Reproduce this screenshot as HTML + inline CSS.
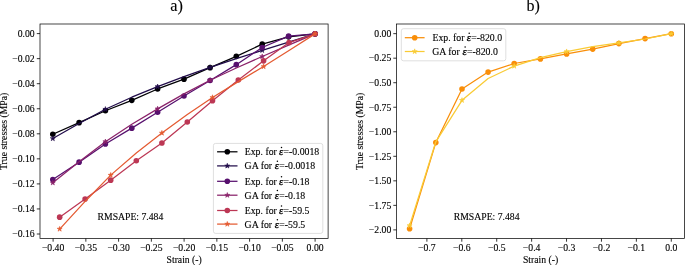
<!DOCTYPE html><html><head><meta charset="utf-8"><style>html,body{margin:0;padding:0;background:#fff;overflow:hidden}svg{display:block}text{font-family:"Liberation Serif", serif;fill:#000;stroke:#000;stroke-width:0.12px}</style></head><body>
<svg style="will-change:transform" width="685" height="265" viewBox="0 0 685 265">
<rect width="685" height="265" fill="#fff"/>
<text x="170.28" y="11.0" font-size="16.3">a)</text>
<text x="526.5" y="11.0" font-size="16">b)</text>
<g>
<polyline points="52.8,134.25 79.1,122.65 105.4,110.75 131.8,100.35 157.6,88.95 184,79.15 210.1,67.65 236.3,56.35 262.2,44.15 288.6,36.85 315.1,33.85" fill="none" stroke="#000004" stroke-width="1.25" stroke-linejoin="round" stroke-linecap="butt"/>
<circle cx="52.8" cy="134.25" r="2.8" fill="#000004"/>
<circle cx="79.1" cy="122.65" r="2.8" fill="#000004"/>
<circle cx="105.4" cy="110.75" r="2.8" fill="#000004"/>
<circle cx="131.8" cy="100.35" r="2.8" fill="#000004"/>
<circle cx="157.6" cy="88.95" r="2.8" fill="#000004"/>
<circle cx="184" cy="79.15" r="2.8" fill="#000004"/>
<circle cx="210.1" cy="67.65" r="2.8" fill="#000004"/>
<circle cx="236.3" cy="56.35" r="2.8" fill="#000004"/>
<circle cx="262.2" cy="44.15" r="2.8" fill="#000004"/>
<circle cx="288.6" cy="36.85" r="2.8" fill="#000004"/>
<circle cx="315.1" cy="33.85" r="2.8" fill="#000004"/>
<polyline points="52.8,138.55 79.1,123.49 105.4,109.25 131.8,97.2 157.6,86.65 184,76.65 210.1,67.45 236.3,58.68 262.2,50.35 288.6,42.06 315.1,33.85" fill="none" stroke="#210c4a" stroke-width="1.25" stroke-linejoin="round" stroke-linecap="butt"/>
<polygon points="52.8,135.9 52.21,137.73 50.28,137.73 51.84,138.86 51.24,140.69 52.8,139.56 54.36,140.69 53.76,138.86 55.32,137.73 53.39,137.73" fill="#210c4a" stroke="#210c4a" stroke-width="0.6" stroke-linejoin="miter"/>
<polygon points="105.4,106.6 104.81,108.43 102.88,108.43 104.44,109.56 103.84,111.39 105.4,110.26 106.96,111.39 106.36,109.56 107.92,108.43 105.99,108.43" fill="#210c4a" stroke="#210c4a" stroke-width="0.6" stroke-linejoin="miter"/>
<polygon points="157.6,84 157.01,85.83 155.08,85.83 156.64,86.96 156.04,88.79 157.6,87.66 159.16,88.79 158.56,86.96 160.12,85.83 158.19,85.83" fill="#210c4a" stroke="#210c4a" stroke-width="0.6" stroke-linejoin="miter"/>
<polygon points="210.1,64.8 209.51,66.63 207.58,66.63 209.14,67.76 208.54,69.59 210.1,68.46 211.66,69.59 211.06,67.76 212.62,66.63 210.69,66.63" fill="#210c4a" stroke="#210c4a" stroke-width="0.6" stroke-linejoin="miter"/>
<polygon points="262.2,47.7 261.61,49.53 259.68,49.53 261.24,50.66 260.64,52.49 262.2,51.36 263.76,52.49 263.16,50.66 264.72,49.53 262.79,49.53" fill="#210c4a" stroke="#210c4a" stroke-width="0.6" stroke-linejoin="miter"/>
<polygon points="315.1,31.2 314.51,33.03 312.58,33.03 314.14,34.16 313.54,35.99 315.1,34.86 316.66,35.99 316.06,34.16 317.62,33.03 315.69,33.03" fill="#210c4a" stroke="#210c4a" stroke-width="0.6" stroke-linejoin="miter"/>
<polyline points="52.8,179.45 79.1,162.15 105.4,143.95 131.8,128.15 157.6,112.25 184,95.95 210.1,80.45 236.3,64.65 262.2,47.45 288.6,36.15 315.1,33.85" fill="none" stroke="#57106e" stroke-width="1.25" stroke-linejoin="round" stroke-linecap="butt"/>
<circle cx="52.8" cy="179.45" r="2.8" fill="#57106e"/>
<circle cx="79.1" cy="162.15" r="2.8" fill="#57106e"/>
<circle cx="105.4" cy="143.95" r="2.8" fill="#57106e"/>
<circle cx="131.8" cy="128.15" r="2.8" fill="#57106e"/>
<circle cx="157.6" cy="112.25" r="2.8" fill="#57106e"/>
<circle cx="184" cy="95.95" r="2.8" fill="#57106e"/>
<circle cx="210.1" cy="80.45" r="2.8" fill="#57106e"/>
<circle cx="236.3" cy="64.65" r="2.8" fill="#57106e"/>
<circle cx="262.2" cy="47.45" r="2.8" fill="#57106e"/>
<circle cx="288.6" cy="36.15" r="2.8" fill="#57106e"/>
<circle cx="315.1" cy="33.85" r="2.8" fill="#57106e"/>
<polyline points="52.8,182.75 79.1,161.7 105.4,141.65 131.8,124.29 157.6,108.85 184,93.9 210.1,80.25 236.3,67.95 262.2,56.55 288.6,45.14 315.1,33.85" fill="none" stroke="#8a226a" stroke-width="1.25" stroke-linejoin="round" stroke-linecap="butt"/>
<polygon points="52.8,180.1 52.21,181.93 50.28,181.93 51.84,183.06 51.24,184.89 52.8,183.76 54.36,184.89 53.76,183.06 55.32,181.93 53.39,181.93" fill="#8a226a" stroke="#8a226a" stroke-width="0.6" stroke-linejoin="miter"/>
<polygon points="105.4,139 104.81,140.83 102.88,140.83 104.44,141.96 103.84,143.79 105.4,142.66 106.96,143.79 106.36,141.96 107.92,140.83 105.99,140.83" fill="#8a226a" stroke="#8a226a" stroke-width="0.6" stroke-linejoin="miter"/>
<polygon points="157.6,106.2 157.01,108.03 155.08,108.03 156.64,109.16 156.04,110.99 157.6,109.86 159.16,110.99 158.56,109.16 160.12,108.03 158.19,108.03" fill="#8a226a" stroke="#8a226a" stroke-width="0.6" stroke-linejoin="miter"/>
<polygon points="210.1,77.6 209.51,79.43 207.58,79.43 209.14,80.56 208.54,82.39 210.1,81.26 211.66,82.39 211.06,80.56 212.62,79.43 210.69,79.43" fill="#8a226a" stroke="#8a226a" stroke-width="0.6" stroke-linejoin="miter"/>
<polygon points="262.2,53.9 261.61,55.73 259.68,55.73 261.24,56.86 260.64,58.69 262.2,57.56 263.76,58.69 263.16,56.86 264.72,55.73 262.79,55.73" fill="#8a226a" stroke="#8a226a" stroke-width="0.6" stroke-linejoin="miter"/>
<polygon points="315.1,31.2 314.51,33.03 312.58,33.03 314.14,34.16 313.54,35.99 315.1,34.86 316.66,35.99 316.06,34.16 317.62,33.03 315.69,33.03" fill="#8a226a" stroke="#8a226a" stroke-width="0.6" stroke-linejoin="miter"/>
<polyline points="59.65,217.15 85.1,199.05 110.7,180.15 136.3,160.75 161.9,143.05 187.3,121.95 212.5,100.65 238.3,79.95 263.6,60.85 289,42.55 315.1,33.85" fill="none" stroke="#bc3754" stroke-width="1.25" stroke-linejoin="round" stroke-linecap="butt"/>
<circle cx="59.65" cy="217.15" r="2.8" fill="#bc3754"/>
<circle cx="85.1" cy="199.05" r="2.8" fill="#bc3754"/>
<circle cx="110.7" cy="180.15" r="2.8" fill="#bc3754"/>
<circle cx="136.3" cy="160.75" r="2.8" fill="#bc3754"/>
<circle cx="161.9" cy="143.05" r="2.8" fill="#bc3754"/>
<circle cx="187.3" cy="121.95" r="2.8" fill="#bc3754"/>
<circle cx="212.5" cy="100.65" r="2.8" fill="#bc3754"/>
<circle cx="238.3" cy="79.95" r="2.8" fill="#bc3754"/>
<circle cx="263.6" cy="60.85" r="2.8" fill="#bc3754"/>
<circle cx="289" cy="42.55" r="2.8" fill="#bc3754"/>
<circle cx="315.1" cy="33.85" r="2.8" fill="#bc3754"/>
<polyline points="59.65,229.05 85.1,201.44 110.7,175.15 136.3,152.98 161.9,133.05 187.3,114.49 212.5,97.45 238.3,81.64 263.6,66.55 289,50.52 315.1,33.85" fill="none" stroke="#e45a31" stroke-width="1.25" stroke-linejoin="round" stroke-linecap="butt"/>
<polygon points="59.65,226.4 59.06,228.23 57.13,228.23 58.69,229.36 58.09,231.19 59.65,230.06 61.21,231.19 60.61,229.36 62.17,228.23 60.24,228.23" fill="#e45a31" stroke="#e45a31" stroke-width="0.6" stroke-linejoin="miter"/>
<polygon points="110.7,172.5 110.11,174.33 108.18,174.33 109.74,175.46 109.14,177.29 110.7,176.16 112.26,177.29 111.66,175.46 113.22,174.33 111.29,174.33" fill="#e45a31" stroke="#e45a31" stroke-width="0.6" stroke-linejoin="miter"/>
<polygon points="161.9,130.4 161.31,132.23 159.38,132.23 160.94,133.36 160.34,135.19 161.9,134.06 163.46,135.19 162.86,133.36 164.42,132.23 162.49,132.23" fill="#e45a31" stroke="#e45a31" stroke-width="0.6" stroke-linejoin="miter"/>
<polygon points="212.5,94.8 211.91,96.63 209.98,96.63 211.54,97.76 210.94,99.59 212.5,98.46 214.06,99.59 213.46,97.76 215.02,96.63 213.09,96.63" fill="#e45a31" stroke="#e45a31" stroke-width="0.6" stroke-linejoin="miter"/>
<polygon points="263.6,63.9 263.01,65.73 261.08,65.73 262.64,66.86 262.04,68.69 263.6,67.56 265.16,68.69 264.56,66.86 266.12,65.73 264.19,65.73" fill="#e45a31" stroke="#e45a31" stroke-width="0.6" stroke-linejoin="miter"/>
<polygon points="315.1,31.2 314.51,33.03 312.58,33.03 314.14,34.16 313.54,35.99 315.1,34.86 316.66,35.99 316.06,34.16 317.62,33.03 315.69,33.03" fill="#e45a31" stroke="#e45a31" stroke-width="0.6" stroke-linejoin="miter"/>
</g>
<polyline points="409.6,228.7 435.8,142.6 462,89 488.1,72.1 514.2,63.5 540.4,58.9 566.6,53.9 592.7,49.1 618.9,43.6 645.1,38.6 671.3,33.7" fill="none" stroke="#f98e09" stroke-width="1.25" stroke-linejoin="round" stroke-linecap="butt"/>
<circle cx="409.6" cy="228.7" r="2.8" fill="#f98e09"/>
<circle cx="435.8" cy="142.6" r="2.8" fill="#f98e09"/>
<circle cx="462" cy="89" r="2.8" fill="#f98e09"/>
<circle cx="488.1" cy="72.1" r="2.8" fill="#f98e09"/>
<circle cx="514.2" cy="63.5" r="2.8" fill="#f98e09"/>
<circle cx="540.4" cy="58.9" r="2.8" fill="#f98e09"/>
<circle cx="566.6" cy="53.9" r="2.8" fill="#f98e09"/>
<circle cx="592.7" cy="49.1" r="2.8" fill="#f98e09"/>
<circle cx="618.9" cy="43.6" r="2.8" fill="#f98e09"/>
<circle cx="645.1" cy="38.6" r="2.8" fill="#f98e09"/>
<circle cx="671.3" cy="33.7" r="2.8" fill="#f98e09"/>
<polyline points="409.6,225.6 435.8,141.8 462,100.3 488.1,78.5 514.2,66.1 540.4,57.6 566.6,51.6 592.7,46.7 618.9,42.9 645.1,39 671.3,33.7" fill="none" stroke="#f9cb35" stroke-width="1.25" stroke-linejoin="round" stroke-linecap="butt"/>
<polygon points="409.6,222.95 409.01,224.78 407.08,224.78 408.64,225.91 408.04,227.74 409.6,226.61 411.16,227.74 410.56,225.91 412.12,224.78 410.19,224.78" fill="#f9cb35" stroke="#f9cb35" stroke-width="0.6" stroke-linejoin="miter"/>
<polygon points="462,97.65 461.41,99.48 459.48,99.48 461.04,100.61 460.44,102.44 462,101.31 463.56,102.44 462.96,100.61 464.52,99.48 462.59,99.48" fill="#f9cb35" stroke="#f9cb35" stroke-width="0.6" stroke-linejoin="miter"/>
<polygon points="514.2,63.45 513.61,65.28 511.68,65.28 513.24,66.41 512.64,68.24 514.2,67.11 515.76,68.24 515.16,66.41 516.72,65.28 514.79,65.28" fill="#f9cb35" stroke="#f9cb35" stroke-width="0.6" stroke-linejoin="miter"/>
<polygon points="566.6,48.95 566.01,50.78 564.08,50.78 565.64,51.91 565.04,53.74 566.6,52.61 568.16,53.74 567.56,51.91 569.12,50.78 567.19,50.78" fill="#f9cb35" stroke="#f9cb35" stroke-width="0.6" stroke-linejoin="miter"/>
<polygon points="618.9,40.25 618.31,42.08 616.38,42.08 617.94,43.21 617.34,45.04 618.9,43.91 620.46,45.04 619.86,43.21 621.42,42.08 619.49,42.08" fill="#f9cb35" stroke="#f9cb35" stroke-width="0.6" stroke-linejoin="miter"/>
<polygon points="671.3,31.05 670.71,32.88 668.78,32.88 670.34,34.01 669.74,35.84 671.3,34.71 672.86,35.84 672.26,34.01 673.82,32.88 671.89,32.88" fill="#f9cb35" stroke="#f9cb35" stroke-width="0.6" stroke-linejoin="miter"/>
<rect x="40" y="24" width="288.1" height="214.5" fill="none" stroke="#000" stroke-width="0.72"/>
<rect x="396.5" y="24" width="288" height="214.5" fill="none" stroke="#000" stroke-width="0.72"/>
<line x1="36.8" y1="33.6" x2="40" y2="33.6" stroke="#000" stroke-width="0.8"/>
<text x="34.67" y="36.9" font-size="9.7" text-anchor="end">0.00</text>
<line x1="36.8" y1="58.65" x2="40" y2="58.65" stroke="#000" stroke-width="0.8"/>
<text x="34.67" y="61.95" font-size="9.7" text-anchor="end">−0.02</text>
<line x1="36.8" y1="83.7" x2="40" y2="83.7" stroke="#000" stroke-width="0.8"/>
<text x="34.67" y="87" font-size="9.7" text-anchor="end">−0.04</text>
<line x1="36.8" y1="108.75" x2="40" y2="108.75" stroke="#000" stroke-width="0.8"/>
<text x="34.67" y="112.05" font-size="9.7" text-anchor="end">−0.06</text>
<line x1="36.8" y1="133.8" x2="40" y2="133.8" stroke="#000" stroke-width="0.8"/>
<text x="34.67" y="137.1" font-size="9.7" text-anchor="end">−0.08</text>
<line x1="36.8" y1="158.85" x2="40" y2="158.85" stroke="#000" stroke-width="0.8"/>
<text x="34.67" y="162.15" font-size="9.7" text-anchor="end">−0.10</text>
<line x1="36.8" y1="183.9" x2="40" y2="183.9" stroke="#000" stroke-width="0.8"/>
<text x="34.67" y="187.2" font-size="9.7" text-anchor="end">−0.12</text>
<line x1="36.8" y1="208.95" x2="40" y2="208.95" stroke="#000" stroke-width="0.8"/>
<text x="34.67" y="212.25" font-size="9.7" text-anchor="end">−0.14</text>
<line x1="36.8" y1="234" x2="40" y2="234" stroke="#000" stroke-width="0.8"/>
<text x="34.67" y="237.3" font-size="9.7" text-anchor="end">−0.16</text>
<line x1="53.1" y1="238.5" x2="53.1" y2="241.7" stroke="#000" stroke-width="0.8"/>
<text x="53.1" y="250.6" font-size="9.7" text-anchor="middle">−0.40</text>
<line x1="85.85" y1="238.5" x2="85.85" y2="241.7" stroke="#000" stroke-width="0.8"/>
<text x="85.85" y="250.6" font-size="9.7" text-anchor="middle">−0.35</text>
<line x1="118.6" y1="238.5" x2="118.6" y2="241.7" stroke="#000" stroke-width="0.8"/>
<text x="118.6" y="250.6" font-size="9.7" text-anchor="middle">−0.30</text>
<line x1="151.35" y1="238.5" x2="151.35" y2="241.7" stroke="#000" stroke-width="0.8"/>
<text x="151.35" y="250.6" font-size="9.7" text-anchor="middle">−0.25</text>
<line x1="184.1" y1="238.5" x2="184.1" y2="241.7" stroke="#000" stroke-width="0.8"/>
<text x="184.1" y="250.6" font-size="9.7" text-anchor="middle">−0.20</text>
<line x1="216.85" y1="238.5" x2="216.85" y2="241.7" stroke="#000" stroke-width="0.8"/>
<text x="216.85" y="250.6" font-size="9.7" text-anchor="middle">−0.15</text>
<line x1="249.6" y1="238.5" x2="249.6" y2="241.7" stroke="#000" stroke-width="0.8"/>
<text x="249.6" y="250.6" font-size="9.7" text-anchor="middle">−0.10</text>
<line x1="282.35" y1="238.5" x2="282.35" y2="241.7" stroke="#000" stroke-width="0.8"/>
<text x="282.35" y="250.6" font-size="9.7" text-anchor="middle">−0.05</text>
<line x1="315.1" y1="238.5" x2="315.1" y2="241.7" stroke="#000" stroke-width="0.8"/>
<text x="315.1" y="250.6" font-size="9.7" text-anchor="middle">0.00</text>
<line x1="393.3" y1="33.65" x2="396.5" y2="33.65" stroke="#000" stroke-width="0.8"/>
<text x="391.27" y="36.95" font-size="9.7" text-anchor="end">0.00</text>
<line x1="393.3" y1="58.18" x2="396.5" y2="58.18" stroke="#000" stroke-width="0.8"/>
<text x="391.27" y="61.48" font-size="9.7" text-anchor="end">−0.25</text>
<line x1="393.3" y1="82.71" x2="396.5" y2="82.71" stroke="#000" stroke-width="0.8"/>
<text x="391.27" y="86.01" font-size="9.7" text-anchor="end">−0.50</text>
<line x1="393.3" y1="107.24" x2="396.5" y2="107.24" stroke="#000" stroke-width="0.8"/>
<text x="391.27" y="110.54" font-size="9.7" text-anchor="end">−0.75</text>
<line x1="393.3" y1="131.77" x2="396.5" y2="131.77" stroke="#000" stroke-width="0.8"/>
<text x="391.27" y="135.07" font-size="9.7" text-anchor="end">−1.00</text>
<line x1="393.3" y1="156.3" x2="396.5" y2="156.3" stroke="#000" stroke-width="0.8"/>
<text x="391.27" y="159.6" font-size="9.7" text-anchor="end">−1.25</text>
<line x1="393.3" y1="180.83" x2="396.5" y2="180.83" stroke="#000" stroke-width="0.8"/>
<text x="391.27" y="184.13" font-size="9.7" text-anchor="end">−1.50</text>
<line x1="393.3" y1="205.36" x2="396.5" y2="205.36" stroke="#000" stroke-width="0.8"/>
<text x="391.27" y="208.66" font-size="9.7" text-anchor="end">−1.75</text>
<line x1="393.3" y1="229.89" x2="396.5" y2="229.89" stroke="#000" stroke-width="0.8"/>
<text x="391.27" y="233.19" font-size="9.7" text-anchor="end">−2.00</text>
<line x1="426.9" y1="238.5" x2="426.9" y2="241.7" stroke="#000" stroke-width="0.8"/>
<text x="426.9" y="250.6" font-size="9.7" text-anchor="middle">−0.7</text>
<line x1="461.81" y1="238.5" x2="461.81" y2="241.7" stroke="#000" stroke-width="0.8"/>
<text x="461.81" y="250.6" font-size="9.7" text-anchor="middle">−0.6</text>
<line x1="496.72" y1="238.5" x2="496.72" y2="241.7" stroke="#000" stroke-width="0.8"/>
<text x="496.72" y="250.6" font-size="9.7" text-anchor="middle">−0.5</text>
<line x1="531.63" y1="238.5" x2="531.63" y2="241.7" stroke="#000" stroke-width="0.8"/>
<text x="531.63" y="250.6" font-size="9.7" text-anchor="middle">−0.4</text>
<line x1="566.54" y1="238.5" x2="566.54" y2="241.7" stroke="#000" stroke-width="0.8"/>
<text x="566.54" y="250.6" font-size="9.7" text-anchor="middle">−0.3</text>
<line x1="601.45" y1="238.5" x2="601.45" y2="241.7" stroke="#000" stroke-width="0.8"/>
<text x="601.45" y="250.6" font-size="9.7" text-anchor="middle">−0.2</text>
<line x1="636.36" y1="238.5" x2="636.36" y2="241.7" stroke="#000" stroke-width="0.8"/>
<text x="636.36" y="250.6" font-size="9.7" text-anchor="middle">−0.1</text>
<line x1="671.27" y1="238.5" x2="671.27" y2="241.7" stroke="#000" stroke-width="0.8"/>
<text x="671.27" y="250.6" font-size="9.7" text-anchor="middle">0.0</text>
<text x="184.2" y="262.7" font-size="9.7" text-anchor="middle">Strain (-)</text>
<text x="540.5" y="262.7" font-size="9.7" text-anchor="middle">Strain (-)</text>
<text transform="translate(7.2,131.4) rotate(-90)" font-size="9.7" text-anchor="middle">True stresses (MPa)</text>
<text transform="translate(362.7,131.4) rotate(-90)" font-size="9.7" text-anchor="middle">True stresses (MPa)</text>
<text x="97.6" y="219.8" font-size="9.7">RMSAPE: 7.484</text>
<text x="453.8" y="219.8" font-size="9.7">RMSAPE: 7.484</text>
<rect x="213.4" y="143.4" width="109.4" height="90" rx="2.2" ry="2.2" fill="#fff" fill-opacity="0.8" stroke="#cccccc" stroke-opacity="0.7" stroke-width="0.9"/>
<line x1="217.1" y1="151.8" x2="237.5" y2="151.8" stroke="#000004" stroke-width="1.25"/>
<circle cx="227.3" cy="151.8" r="2.8" fill="#000004"/>
<text x="244.72" y="155.4" font-size="9.8">Exp. for</text>
<text x="278.93" y="155.4" font-size="9.9" font-style="italic" style="font-family:'Liberation Sans',sans-serif;stroke-width:0.25px">ε</text>
<circle cx="281.5" cy="147.4" r="0.75" fill="#000"/>
<text x="283.51" y="155.4" font-size="9.8">=-0.0018</text>
<line x1="217.1" y1="165.9" x2="237.5" y2="165.9" stroke="#210c4a" stroke-width="1.25"/>
<polygon points="227.3,163.25 226.71,165.08 224.78,165.08 226.34,166.21 225.74,168.04 227.3,166.91 228.86,168.04 228.26,166.21 229.82,165.08 227.89,165.08" fill="#210c4a" stroke="#210c4a" stroke-width="0.6" stroke-linejoin="miter"/>
<text x="244.6" y="169.2" font-size="9.8">GA for</text>
<text x="274.83" y="169.2" font-size="9.9" font-style="italic" style="font-family:'Liberation Sans',sans-serif;stroke-width:0.25px">ε</text>
<circle cx="277.4" cy="161.2" r="0.75" fill="#000"/>
<text x="279.31" y="169.2" font-size="9.8">=-0.0018</text>
<line x1="217.1" y1="181.3" x2="237.5" y2="181.3" stroke="#57106e" stroke-width="1.25"/>
<circle cx="227.3" cy="181.3" r="2.8" fill="#57106e"/>
<text x="244.72" y="184.7" font-size="9.8">Exp. for</text>
<text x="278.93" y="184.7" font-size="9.9" font-style="italic" style="font-family:'Liberation Sans',sans-serif;stroke-width:0.25px">ε</text>
<circle cx="281.5" cy="176.7" r="0.75" fill="#000"/>
<text x="283.51" y="184.7" font-size="9.8">=-0.18</text>
<line x1="217.1" y1="195.2" x2="237.5" y2="195.2" stroke="#8a226a" stroke-width="1.25"/>
<polygon points="227.3,192.55 226.71,194.38 224.78,194.38 226.34,195.51 225.74,197.34 227.3,196.21 228.86,197.34 228.26,195.51 229.82,194.38 227.89,194.38" fill="#8a226a" stroke="#8a226a" stroke-width="0.6" stroke-linejoin="miter"/>
<text x="244.6" y="198.6" font-size="9.8">GA for</text>
<text x="274.83" y="198.6" font-size="9.9" font-style="italic" style="font-family:'Liberation Sans',sans-serif;stroke-width:0.25px">ε</text>
<circle cx="277.4" cy="190.6" r="0.75" fill="#000"/>
<text x="279.31" y="198.6" font-size="9.8">=-0.18</text>
<line x1="217.1" y1="210.5" x2="237.5" y2="210.5" stroke="#bc3754" stroke-width="1.25"/>
<circle cx="227.3" cy="210.5" r="2.8" fill="#bc3754"/>
<text x="244.72" y="214.1" font-size="9.8">Exp. for</text>
<text x="278.93" y="214.1" font-size="9.9" font-style="italic" style="font-family:'Liberation Sans',sans-serif;stroke-width:0.25px">ε</text>
<circle cx="281.5" cy="206.1" r="0.75" fill="#000"/>
<text x="283.51" y="214.1" font-size="9.8">=-59.5</text>
<line x1="217.1" y1="224.1" x2="237.5" y2="224.1" stroke="#e45a31" stroke-width="1.25"/>
<polygon points="227.3,221.45 226.71,223.28 224.78,223.28 226.34,224.41 225.74,226.24 227.3,225.11 228.86,226.24 228.26,224.41 229.82,223.28 227.89,223.28" fill="#e45a31" stroke="#e45a31" stroke-width="0.6" stroke-linejoin="miter"/>
<text x="244.6" y="227.8" font-size="9.8">GA for</text>
<text x="274.83" y="227.8" font-size="9.9" font-style="italic" style="font-family:'Liberation Sans',sans-serif;stroke-width:0.25px">ε</text>
<circle cx="277.4" cy="219.8" r="0.75" fill="#000"/>
<text x="279.31" y="227.8" font-size="9.8">=-59.5</text>
<rect x="401.3" y="28.7" width="104.5" height="32.1" rx="2.2" ry="2.2" fill="#fff" fill-opacity="0.8" stroke="#cccccc" stroke-opacity="0.7" stroke-width="0.9"/>
<line x1="404.8" y1="37.7" x2="424.6" y2="37.7" stroke="#f98e09" stroke-width="1.25"/>
<circle cx="414.7" cy="37.7" r="2.8" fill="#f98e09"/>
<text x="432.42" y="41.2" font-size="9.8">Exp. for</text>
<text x="466.63" y="41.2" font-size="9.9" font-style="italic" style="font-family:'Liberation Sans',sans-serif;stroke-width:0.25px">ε</text>
<circle cx="469.2" cy="33.2" r="0.75" fill="#000"/>
<text x="471.21" y="41.2" font-size="9.8">=-820.0</text>
<line x1="404.8" y1="51.5" x2="424.6" y2="51.5" stroke="#f9cb35" stroke-width="1.25"/>
<polygon points="414.7,48.85 414.11,50.68 412.18,50.68 413.74,51.81 413.14,53.64 414.7,52.51 416.26,53.64 415.66,51.81 417.22,50.68 415.29,50.68" fill="#f9cb35" stroke="#f9cb35" stroke-width="0.6" stroke-linejoin="miter"/>
<text x="432.3" y="54.9" font-size="9.8">GA for</text>
<text x="462.53" y="54.9" font-size="9.9" font-style="italic" style="font-family:'Liberation Sans',sans-serif;stroke-width:0.25px">ε</text>
<circle cx="465.1" cy="46.9" r="0.75" fill="#000"/>
<text x="467.01" y="54.9" font-size="9.8">=-820.0</text>
</svg></body></html>
